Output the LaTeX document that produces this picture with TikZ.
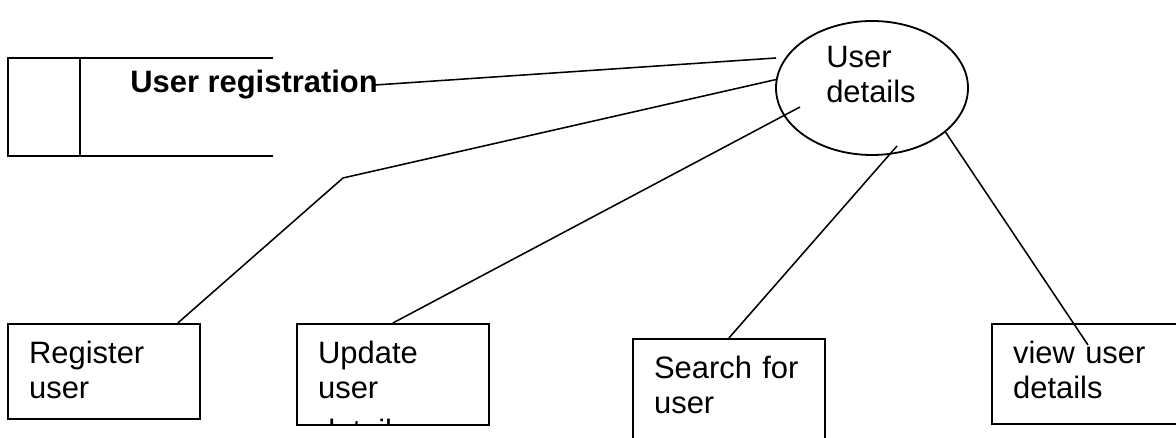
\documentclass[tikz,border=0pt]{standalone}
\usepackage{fontspec}
\setmainfont{Liberation Sans}
\usepackage{tikz}
\usetikzlibrary{shapes.geometric}

\tikzset{
  txt/.style={font=\fontsize{22pt}{0.875cm}\selectfont},
  storelbl/.style={font=\fontsize{22pt}{0.875cm}\selectfont\bfseries},
  task/.style={txt, draw=black, line width=1.3pt, anchor=north west, align=left,
    inner xsep=0.53cm, inner ysep=0.5cm, text height=0.5cm, text width=3.74cm},
  link/.style={draw=black, line width=1.1pt}
}

\begin{document}
\begin{tikzpicture}

 \useasboundingbox (0,0) rectangle (29.4,10.95);
 \clip (0,0) rectangle (29.4,10.95);

 % Data store, open on the right
 \draw [line width=1.3pt] (6.825,9.5) -| (0.2,7.05) -- (6.825,7.05);
 \draw [line width=1.3pt] (2.0,9.5) -- (2.0,7.05);
 \node [storelbl, anchor=base west, inner sep=0] (store) at (3.25,8.625) {User registration};

 % Central process
 \node [ellipse, draw=black, line width=1.3pt, minimum width=4.8cm, minimum height=3.35cm, inner sep=0] (ud) at (21.8,8.75) {};
 \node [txt, anchor=north west, align=left, text width=3cm, inner sep=0, text height=0.55cm] (udtxt) at (20.65,9.83) {User\\details};

 % Tasks along the bottom
 \node [task, text depth=0.875cm] (reg) at (0.175,2.875) {Register\\user};
 \node [draw=black, line width=1.3pt, anchor=north west, minimum width=4.8cm, minimum height=2.525cm, inner sep=0] (upd) at (7.4,2.875) {};
 \begin{scope}
  \clip (upd.south west) rectangle (upd.north east);
  \node [task, draw=none] (updtxt) at (upd.north west) {Update\\user\\[0.2cm]details};
 \end{scope}
 \node [task, text depth=2cm] (srch) at (15.8,2.5) {Search for\\user};
 \node [task, text depth=1cm] (view) at (24.775,2.875) {view user\\details};

 % Connectors
 \coordinate (bend) at (8.575,6.5);
 \draw [link] ([xshift=-0.1cm]store.east) -- ([xshift=-2.4cm,yshift=0.75cm]ud.center);
 \draw [link] (ud.175) -- (bend) -- ([xshift=-0.575cm]reg.north east);
 \draw [link] ([xshift=-1.8cm,yshift=-0.475cm]ud.center) -- (upd.north);
 \draw [link] ([xshift=0.625cm,yshift=-1.45cm]ud.center) -- (srch.north);
 \draw [link] (ud.-31) -- ([xshift=2.425cm,yshift=-0.55cm]view.north west);

\end{tikzpicture}
\end{document}
